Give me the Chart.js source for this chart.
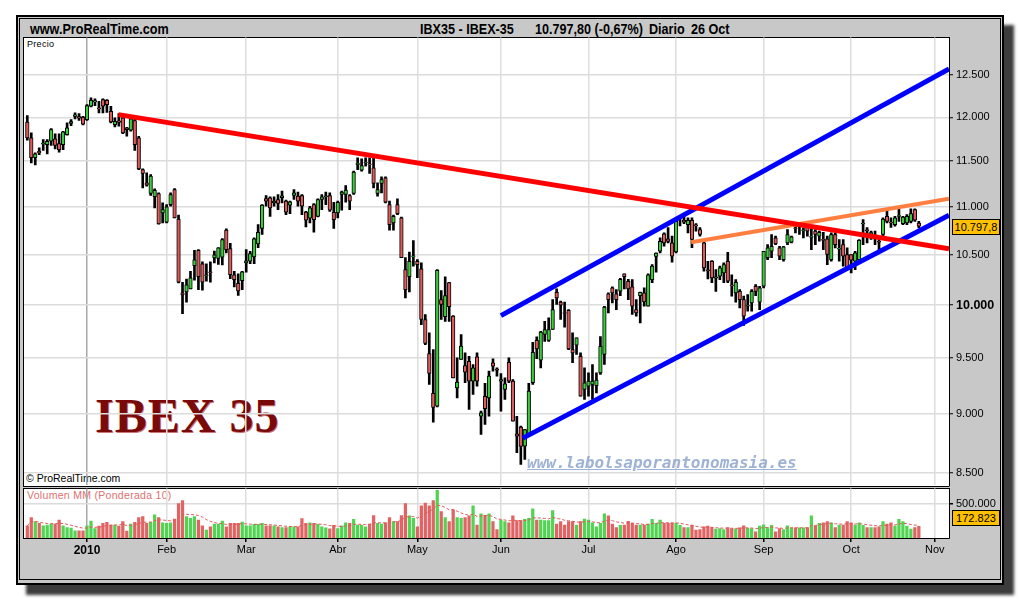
<!DOCTYPE html>
<html lang="es"><head><meta charset="utf-8">
<title>IBEX 35 - ProRealTime</title>
<script src="https://cdn.jsdelivr.net/npm/chart.js@4.4.1/dist/chart.umd.min.js"></script>
<style>
html,body{margin:0;padding:0;background:#fff}
body{width:1020px;height:600px;position:relative;overflow:hidden;font-family:"Liberation Sans",Arial,sans-serif}
.a{position:absolute;white-space:pre;line-height:1}
#frame{left:16px;top:15px;width:984px;height:566px;border:2px solid #000;background:#c8c8c8;box-shadow:10px 10px 3px #3c3c3c}
#inner{left:19px;top:18px;width:980px;height:560px;border:1px solid #000}
#pp{left:23px;top:37px;width:925px;height:448px;background:#fff;border:1px solid #000;border-right:none}
#vp{left:23px;top:488px;width:925px;height:49px;background:#fff;border:1px solid #000;border-right:none}
canvas{position:absolute}
.hdr{font-weight:bold;font-size:15px;transform:scaleX(.84);transform-origin:0 0;top:21px;color:#000}
.box{position:absolute;background:#ffc000;border:1px solid #000;font-size:11px;text-align:center;height:14px;line-height:14px;width:46px;left:952px;color:#000}
#ibex{left:95px;top:392px;font-family:"Liberation Serif","DejaVu Serif",serif;font-weight:bold;font-size:48px;line-height:48px;color:#7a0a0a;letter-spacing:1px;text-shadow:1px 1px 0 #c77}
#wm{left:527px;top:455px;font-family:"DejaVu Sans Mono",monospace;font-weight:bold;font-style:oblique;font-size:16px;line-height:16px;color:rgba(140,165,205,.85);text-decoration:underline}
</style></head><body>
<div id="frame" class="a"></div>
<div id="inner" class="a"></div>
<div class="a hdr" style="left:30px">www.ProRealTime.com</div>
<div class="a hdr" style="left:420px">IBX35 - IBEX-35</div>
<div class="a hdr" style="left:535px">10.797,80 (-0,67%)</div>
<div class="a hdr" style="left:649px">Diario</div>
<div class="a hdr" style="left:691px">26 Oct</div>
<div id="pp" class="a"></div>
<div id="vp" class="a"></div>
<div class="a" style="left:27px;top:40px;font-size:9px;letter-spacing:.3px">Precio</div>
<div id="ibex" class="a">IBEX 35</div>
<div class="a" style="left:26px;top:473px;font-size:10.5px">© ProRealTime.com</div>
<div class="a" style="left:27px;top:490px;font-size:10.5px;color:#e07070;letter-spacing:.3px">Volumen MM (Ponderada 10)</div>
<canvas id="pc" width="976" height="448" style="left:24px;top:38px"></canvas>
<canvas id="vc" width="976" height="69" style="left:24px;top:489px"></canvas>
<div id="wm" class="a">www.labolsaporantonomasia.es</div>
<div id="pbox" class="box" style="top:219px">10.797,8</div>
<div id="vbox" class="box" style="top:510px">172.823</div>
<script>
// ---- data (trading-day index: 0 = 4 Jan 2010, first bar = 10 Dec 2009) ----
const FIRST = -15;
const monthTicks = [0, 20, 40, 63, 83, 104, 126, 148, 170, 192, 213];
const monthLabels = ['2010', 'Feb', 'Mar', 'Abr', 'May', 'Jun', 'Jul', 'Ago', 'Sep', 'Oct', 'Nov'];
const priceTicks = [8500, 9000, 9500, 10000, 10500, 11000, 11500, 12000, 12500];
const volumeTicks = [500000];

const open = [
11946,11763,11538,11611,11690,11687,11725,11752,11698,11687,11801,11930,12010,12010,12004,
11973,12129,12180,12110,12208,12200,12070,11916,11960,11993,
11877,11850,11961,11763,11407,11260,11145,11110,11145,10937,
10838,11026,11188,10873,10120,10130,10160,10390,10548,10410,
10290,10330,10470,10465,10477,10755,10566,10300,10215,10242,
10420,10436,10480,10614,10773,11090,11098,11044,11080,11100,
11062,11019,11123,11116,11123,10947,10880,11026,10901,11080,
11110,11123,10944,10937,11134,11134,11123,11145,11460,11400,
11480,11470,11426,11145,11254,11316,11026,10831,11026,10884,
10352,10280,10480,10436,10360,9862,9542,9180,9067,10055,
9890,10222,9894,9230,9487,9432,9471,9290,9511,8980,
9155,9140,9457,9400,9290,9215,9462,9290,8827,8884,
8722,8821,9275,9665,9480,9720,9665,9768,10127,10030,
9930,9951,9579,9620,9517,9215,9245,9260,9250,9365,
9533,10110,10170,10110,10137,10310,10235,10180,9958,10094,
10120,9990,10252,10486,10538,10717,10665,10624,10531,10880,
10860,10814,10859,10810,10762,10624,10350,10436,10265,10285,
10319,10436,10200,10120,10136,10055,9990,10023,10186,10030,
10186,10472,10538,10676,10572,10453,10624,10630,10780,10790,
10750,10790,10680,10745,10693,10660,10665,10453,10710,10560,
10606,10504,10504,10436,10453,10820,10760,10720,10700,10640,
10710,10901,10840,10814,10900,10824,10831,10848,10972,10830
];
const high = [
12020,11820,11593,11649,11744,11744,11870,11809,11809,11839,11935,11973,12051,12043,12012,
12149,12228,12216,12188,12216,12208,12129,11993,12043,12004,
11884,11993,11981,11782,11415,11370,11352,11195,11152,11044,
11026,11152,11199,10914,10225,10258,10335,10548,10555,10430,
10410,10430,10540,10575,10668,10769,10620,10335,10310,10335,
10555,10538,10676,10814,11026,11122,11108,11108,11134,11170,
11073,11062,11188,11159,11134,10954,11008,11037,11087,11134,
11159,11152,11051,11062,11170,11232,11134,11389,11537,11526,
11537,11537,11537,11260,11327,11327,11062,10914,11087,10894,
10472,10530,10648,10453,10419,9910,9735,9579,10352,10143,
10280,10225,9900,9503,9720,9548,9517,9441,9548,9023,
9269,9380,9493,9410,9359,9320,9503,9305,8979,8893,
8865,9269,9647,9697,9750,9845,9878,10055,10160,10040,
10030,9958,9735,9688,9548,9410,9365,9441,9365,9700,
9990,10120,10180,10153,10265,10310,10255,10252,10055,10128,
10170,10310,10402,10521,10676,10727,10783,10693,10866,10901,
10908,10884,10884,10824,10783,10641,10436,10443,10352,10386,
10419,10527,10300,10252,10153,10088,10104,10153,10203,10186,
10538,10606,10710,10693,10589,10589,10762,10693,10797,10831,
10780,10797,10769,10762,10745,10734,10693,10727,10727,10658,
10658,10572,10504,10538,10658,10866,10783,10745,10745,10693,
10884,10954,10884,10901,10980,10901,10919,10980,10980,10848
];
const low = [
11736,11481,11459,11574,11622,11582,11676,11638,11600,11630,11793,11904,11981,11965,11912,
11965,12122,12137,12051,12051,12058,11935,11889,11896,11812,
11782,11839,11622,11407,11205,11225,11123,10990,10817,10831,
10831,11008,10884,10218,9919,10030,10160,10245,10153,10146,
10235,10225,10420,10405,10400,10520,10260,10180,10095,10153,
10325,10412,10412,10575,10710,11008,10901,11008,10972,11044,
10919,10929,11080,11008,10919,10790,10831,10734,10894,10972,
11026,10954,10773,10884,10965,11051,10972,11134,11407,11389,
11444,11363,11205,11116,11152,11044,10755,10755,10919,10472,
10070,10130,10386,10270,9814,9625,9260,8927,9061,9862,
9845,9845,9320,9140,9487,9275,9038,9170,9245,8821,
8907,8979,9380,9335,9023,9126,9275,8935,8666,8568,
8610,8807,9260,9494,9410,9655,9655,9768,10007,9862,
9790,9579,9457,9533,9155,9126,9155,9126,9185,9350,
9441,9926,10023,9958,10094,10160,10055,9910,9894,9830,
9990,9990,10220,10325,10521,10589,10624,10426,10521,10800,
10824,10727,10575,10745,10693,10335,10259,10220,10136,10252,
10220,10220,10087,10030,9975,9805,9942,9942,10094,9958,
10170,10453,10472,10606,10453,10436,10606,10624,10727,10710,
10676,10693,10555,10606,10641,10555,10402,10436,10572,10436,
10386,10352,10319,10352,10436,10606,10624,10658,10606,10538,
10693,10831,10783,10797,10848,10814,10814,10831,10848,10780
];
const close = [
11763,11538,11582,11593,11700,11725,11858,11676,11630,11832,11877,11950,12030,11990,11919,
12137,12200,12195,12100,12129,12149,11946,11953,11940,11820,
11858,11981,11687,11415,11363,11235,11334,11180,10820,10972,
11001,11134,10884,10225,10100,10200,10270,10450,10280,10225,
10300,10320,10500,10572,10658,10555,10300,10252,10140,10330,
10440,10514,10665,10734,11020,11062,10990,11062,11037,11120,
10944,11055,11152,11062,11008,10859,10990,10866,11080,11108,
11120,10965,10866,11051,11159,11181,11062,11379,11480,11452,
11490,11460,11254,11188,11297,11051,10814,10901,10929,10472,
10153,10436,10490,10402,9862,9635,9359,9055,10345,10007,
10094,9985,9320,9281,9612,9371,9290,9410,9290,9009,
9044,9335,9426,9390,9305,9266,9290,8935,8807,8720,
8864,9200,9554,9585,9742,9767,9767,9958,10071,10000,
9920,9585,9548,9688,9155,9275,9290,9290,9300,9610,
9983,10055,10120,10055,10255,10280,10160,9990,9925,10125,
10033,10300,10386,10520,10640,10624,10638,10487,10848,10890,
10838,10859,10658,10800,10710,10369,10340,10269,10280,10369,
10402,10235,10190,10225,10055,9894,10000,10136,10136,10170,
10538,10572,10589,10614,10487,10582,10710,10686,10770,10800,
10760,10745,10690,10710,10734,10650,10504,10710,10606,10570,
10487,10369,10446,10521,10651,10830,10750,10730,10690,10630,
10873,10848,10830,10884,10910,10894,10901,10929,10859,10797.8
];
const volume = [
180e3,300e3,240e3,215e3,180e3,190e3,205e3,205e3,265e3,180e3,155e3,145e3,105e3,105e3,105e3,
180e3,250e3,140e3,175e3,215e3,230e3,190e3,190e3,175e3,240e3,
100e3,205e3,230e3,300e3,315e3,215e3,230e3,340e3,300e3,225e3,
215e3,225e3,280e3,505e3,550e3,315e3,290e3,315e3,265e3,180e3,
115e3,165e3,205e3,205e3,250e3,165e3,215e3,215e3,215e3,235e3,
180e3,180e3,200e3,200e3,215e3,180e3,180e3,180e3,165e3,155e3,
155e3,165e3,165e3,165e3,285e3,215e3,225e3,215e3,200e3,165e3,
150e3,135e3,185e3,140e3,180e3,225e3,215e3,275e3,190e3,185e3,
165e3,205e3,330e3,215e3,205e3,225e3,300e3,240e3,240e3,330e3,
505e3,325e3,290e3,165e3,475e3,515e3,475e3,550e3,700e3,390e3,
300e3,240e3,415e3,300e3,290e3,300e3,325e3,475e3,190e3,355e3,
335e3,355e3,240e3,125e3,265e3,240e3,225e3,325e3,255e3,255e3,
275e3,290e3,430e3,265e3,265e3,255e3,255e3,405e3,205e3,240e3,
190e3,240e3,240e3,190e3,240e3,280e3,265e3,225e3,165e3,215e3,
355e3,325e3,205e3,155e3,185e3,190e3,245e3,215e3,190e3,190e3,
190e3,205e3,275e3,215e3,265e3,215e3,215e3,215e3,215e3,185e3,
155e3,155e3,185e3,115e3,125e3,165e3,175e3,155e3,130e3,140e3,
125e3,155e3,140e3,135e3,150e3,180e3,145e3,140e3,90e3,175e3,
195e3,155e3,185e3,90e3,140e3,125e3,180e3,150e3,150e3,150e3,
150e3,155e3,325e3,180e3,215e3,225e3,240e3,225e3,155e3,190e3,
190e3,240e3,225e3,190e3,225e3,185e3,155e3,155e3,155e3,165e3,
240e3,205e3,225e3,175e3,275e3,240e3,175e3,130e3,155e3,172823
];
// trend lines drawn on the chart: [index, price] end points
const redLine    = [[7.9, 12031], [216.58, 10562]];
const blueUpper  = [[104.0, 9900], [216.58, 12578]];
const blueLower  = [[109.5, 8790], [216.58, 10912]];
const orangeLine = [[151.8, 10630], [216.58, 11088]];

// ---- layout constants (axis ranges, panel rectangles on the page) ----
const X_MIN = -15.83, X_MAX = 216.58;
const Y_MIN = 8396, Y_MAX = 12965;
const V_MAX = 727000;
const PRICE_AREA = { left: 24, top: 38, width: 925, height: 448 };
const VOL_AREA = { left: 24, top: 489, width: 925, height: 49 };

const FONT = '"Liberation Sans", Arial, sans-serif';
const GREEN = '#3ccb3c', RED = '#dc5b5b';
const VGREEN = '#52d352', VRED = '#e06464';
Chart.defaults.font.family = FONT;

const idx = open.map((_, k) => FIRST + k);
const isUp = k => close[k] >= open[k];
const fmt = v => String(Math.round(v)).replace(/\B(?=(\d{3})+(?!\d))/g, '.');
const xGridColor = ctx => (ctx.tick && ctx.tick.value === 0) ? '#a8a8a8' : '#dedede';
const monthTickBuilder = s => { s.ticks = monthTicks.map(v => ({ value: v })); };
const toPts = arr => arr.map(p => ({ x: p[0], y: p[1] }));
const lineDs = (arr, color, w) => ({
  type: 'line', data: toPts(arr), borderColor: color, borderWidth: w,
  pointRadius: 0, fill: false, order: 0, tension: 0
});

// weighted moving average (10) of volume
const wma = volume.map((_, k) => {
  let s = 0, w = 0;
  for (let j = 0; j < 10 && k - j >= 0; j++) { const wt = 10 - j; s += wt * volume[k - j]; w += wt; }
  return s / w;
});

const common = {
  responsive: false, maintainAspectRatio: false, animation: false, events: [],
  layout: { padding: 0, autoPadding: false },
  plugins: { legend: { display: false }, tooltip: { enabled: false } }
};

const pcEl = document.getElementById('pc');
const priceChart = new Chart(pcEl, {
  type: 'bar',
  data: {
    datasets: [
      lineDs(redLine, '#ff0000', 5),
      lineDs(blueUpper, '#0000ff', 5),
      lineDs(blueLower, '#0000ff', 5),
      lineDs(orangeLine, '#ff7f40', 4),
      {
        type: 'bar', grouped: false, order: 1,
        data: idx.map((x, k) => ({ x, y: [open[k], close[k]] })),
        backgroundColor: idx.map((_, k) => isUp(k) ? GREEN : RED),
        borderColor: '#000', borderWidth: 1, borderSkipped: false, barThickness: 3.6
      },
      {
        type: 'bar', grouped: false, order: 2,
        data: idx.map((x, k) => ({ x, y: [low[k], high[k]] })),
        backgroundColor: '#000', borderWidth: 0, barThickness: 2
      }
    ]
  },
  options: Object.assign({}, common, {
    scales: {
      x: {
        type: 'linear', min: X_MIN, max: X_MAX, offset: false,
        afterBuildTicks: monthTickBuilder,
        afterFit: s => { s.height = 0; },
        grid: { offset: false, color: xGridColor, lineWidth: 1.5, drawTicks: false },
        border: { display: false },
        ticks: { display: false }
      },
      y: {
        type: 'logarithmic', position: 'right', min: Y_MIN, max: Y_MAX,
        afterBuildTicks: s => { s.ticks = priceTicks.map(v => ({ value: v })); },
        afterFit: s => { s.width = 51; },
        grid: { color: '#dcdcdc', lineWidth: 1.5, tickColor: '#000', tickLength: 4, tickWidth: 1 },
        border: { color: '#000', width: 1 },
        ticks: {
          color: '#000', padding: 3, callback: v => fmt(v),
          font: ctx => (ctx.tick && ctx.tick.value === 10000)
            ? { family: FONT, size: 12.5, weight: 'bold' } : { family: FONT, size: 11 }
        }
      }
    }
  })
});

const vcEl = document.getElementById('vc');
const volChart = new Chart(vcEl, {
  type: 'bar',
  data: {
    datasets: [
      {
        type: 'line', order: 0, data: idx.map((x, k) => ({ x, y: wma[k] })),
        borderColor: '#e05a5a', borderWidth: 1, borderDash: [3, 2], pointRadius: 0, fill: false
      },
      {
        type: 'bar', grouped: false, order: 1,
        data: idx.map((x, k) => ({ x, y: volume[k] })),
        backgroundColor: idx.map((_, k) => isUp(k) ? VGREEN : VRED),
        borderWidth: 0, barThickness: 2.6
      }
    ]
  },
  options: Object.assign({}, common, {
    scales: {
      x: {
        type: 'linear', min: X_MIN, max: X_MAX, offset: false,
        afterBuildTicks: monthTickBuilder,
        afterFit: s => { s.height = 20; },
        grid: { offset: false, color: xGridColor, lineWidth: 1.5, tickColor: '#000', tickLength: 4, drawTicks: true },
        border: { color: '#000', width: 1 },
        ticks: {
          autoSkip: false, maxRotation: 0, minRotation: 0, padding: 1, color: '#000',
          callback: (v, i) => monthLabels[i],
          font: ctx => ctx.index === 0 ? { family: FONT, size: 12, weight: 'bold' } : { family: FONT, size: 11 }
        }
      },
      y: {
        type: 'linear', position: 'right', min: 0, max: V_MAX,
        afterBuildTicks: s => { s.ticks = volumeTicks.map(v => ({ value: v })); },
        afterFit: s => { s.width = 51; },
        grid: { color: '#dcdcdc', lineWidth: 1.5, tickColor: '#000', tickLength: 4 },
        border: { color: '#000', width: 1 },
        ticks: { color: '#000', padding: 3, font: { family: FONT, size: 11 }, callback: v => fmt(v) }
      }
    }
  })
});

// make each chart's plotting area land exactly on its panel rectangle
function fitArea(chart, el, area) {
  for (let pass = 0; pass < 2; pass++) {
    const ca = chart.chartArea;
    const padL = ca.left, padT = ca.top;
    const padR = chart.width - ca.right, padB = chart.height - ca.bottom;
    el.style.left = (area.left - padL) + 'px';
    el.style.top = (area.top - padT) + 'px';
    chart.resize(Math.round(area.width + padL + padR), Math.round(area.height + padT + padB));
  }
}
fitArea(priceChart, pcEl, PRICE_AREA);
fitArea(volChart, vcEl, VOL_AREA);

// last-price box positioned by the price scale
const pArea = priceChart.chartArea;
const lastY = priceChart.scales.y.getPixelForValue(close[close.length - 1]) - pArea.top + PRICE_AREA.top;
document.getElementById('pbox').style.top = (lastY - 8) + 'px';
</script>
</body></html>
